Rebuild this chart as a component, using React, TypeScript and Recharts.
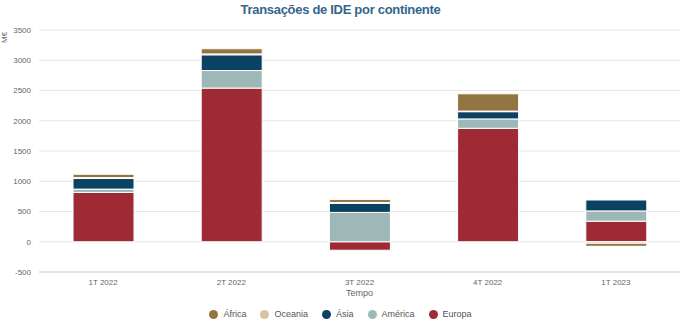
import { BarChart, Bar, XAxis, YAxis, CartesianGrid } from 'recharts';

const quarters = ['1T 2022', '2T 2022', '3T 2022', '4T 2022', '1T 2023'];
const europa = [815, 2540, -140, 1875, 340];
const america = [55, 290, 485, 155, 170];
const asia = [175, 260, 150, 120, 180];
const oceania = [15, 15, 15, 10, -25];
const africa = [55, 85, 50, 285, -50];
const yTicks = [-500, 0, 500, 1000, 1500, 2000, 2500, 3000, 3500];

const series = [
  { key: 'Europa', color: '#9e2a35' },
  { key: 'América', color: '#9eb8b8' },
  { key: 'Ásia', color: '#0b4261' },
  { key: 'Oceania', color: '#d4c4a2' },
  { key: 'África', color: '#927541' },
];

const data = quarters.map((q, i) => ({
  name: q,
  'Europa': europa[i],
  'América': america[i],
  'Ásia': asia[i],
  'Oceania': oceania[i],
  'África': africa[i],
}));

const legendOrder = ['África', 'Oceania', 'Ásia', 'América', 'Europa'];

export default function App() {
  return (
    <div style={{ position: 'absolute', left: 0, top: 0, width: 681, height: 324, background: '#fff', fontFamily: 'Arial, "Liberation Sans", sans-serif' }}>
      <div style={{ position: 'absolute', top: 2, left: 0, width: 681, textAlign: 'center', fontSize: 13, letterSpacing: -0.3, fontWeight: 'bold', color: '#35658a' }}>
        Transações de IDE por continente
      </div>
      <div style={{ position: 'absolute', left: 0, top: 33, fontSize: 8, color: '#666', transform: 'rotate(-90deg)', transformOrigin: 'left top', width: 20 }}>
        <span style={{ position: 'absolute', left: -10, top: 0 }}>M€</span>
      </div>
      <BarChart width={681} height={324} data={data} stackOffset="sign" barSize={61} margin={{ top: 30, right: 1, left: 0, bottom: 22 }}>
        <CartesianGrid vertical={false} stroke="#e6e6e6" />
        <XAxis dataKey="name" height={30} axisLine={{ stroke: '#ccd6eb' }} tickLine={false} tick={{ fontSize: 8, fill: '#666' }} tickMargin={1}
          label={{ value: 'Tempo', position: 'insideBottom', offset: 6, fontSize: 9, fill: '#666' }} />
        <YAxis width={39} domain={[-500, 3500]} ticks={yTicks} axisLine={false} tickLine={false} tick={{ fontSize: 8, fill: '#666' }} tickMargin={2} interval={0} />
        {series.map((s) => (
          <Bar key={s.key} dataKey={s.key} stackId="a" fill={s.color} stroke="#fff" strokeWidth={1} isAnimationActive={false} />
        ))}
      </BarChart>
      <div style={{ position: 'absolute', left: 0, top: 309, width: 681, display: 'flex', justifyContent: 'center', gap: 14, fontSize: 9, color: '#555' }}>
        {legendOrder.map((k) => {
          const s = series.find((x) => x.key === k)!;
          return (
            <span key={k} style={{ display: 'flex', alignItems: 'center' }}>
              <span style={{ width: 9, height: 9, borderRadius: '50%', background: s.color, display: 'inline-block', marginRight: 5 }} />
              {k}
            </span>
          );
        })}
      </div>
    </div>
  );
}
